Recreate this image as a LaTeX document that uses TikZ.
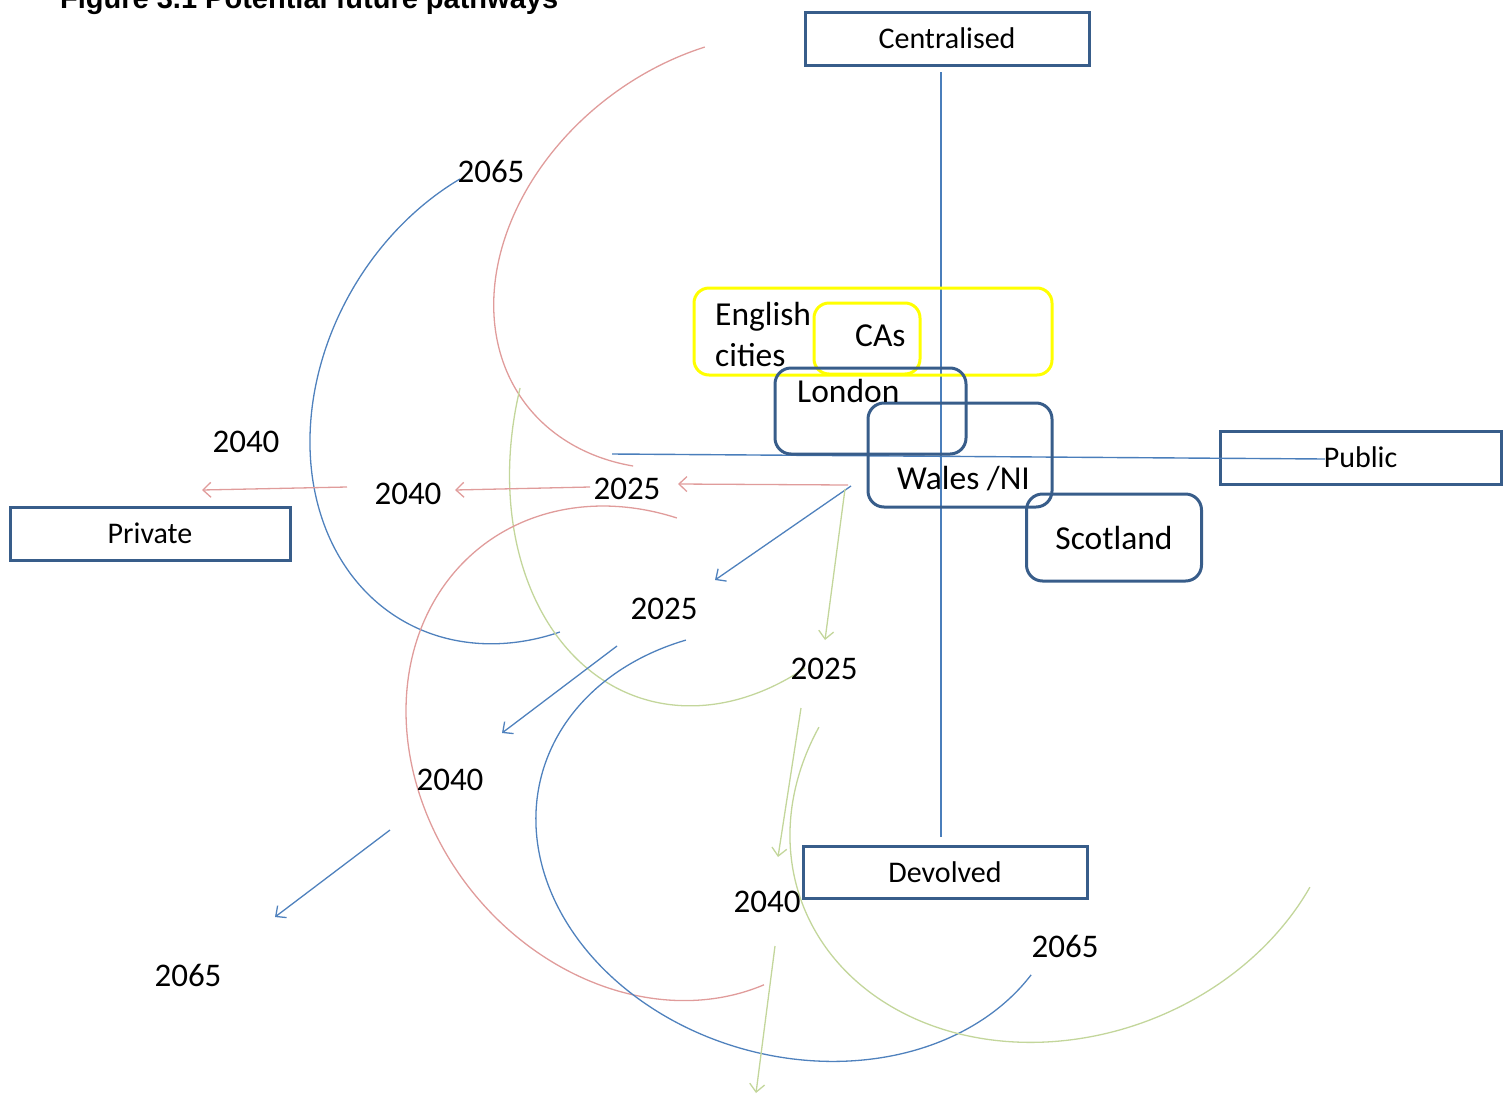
\documentclass[tikz,border=0pt]{standalone}
\usepackage{fontspec}
\setmainfont{Carlito}
\newfontfamily\titlefont{Liberation Sans}
\usetikzlibrary{arrows.meta}
\definecolor{boxblue}{HTML}{385D8A}
\definecolor{axisblue}{HTML}{4A7EBB}
\definecolor{arcred}{HTML}{E09C9B}
\definecolor{arcblue}{HTML}{4F81BD}
\definecolor{arcgreen}{HTML}{C3D69B}
\definecolor{ylw}{HTML}{FFFF00}
\begin{document}
\begin{tikzpicture}[x=1pt,y=-1pt,
  axisbox/.style={draw=boxblue, line width=3pt, inner sep=0pt, font=\fontsize{30}{36}\selectfont},
  ybox/.style={draw=ylw, line width=3pt, rounded corners=15pt, inner sep=0pt},
  rbox/.style={draw=boxblue, line width=3pt, rounded corners=16pt, inner sep=0pt},
  lbl/.style={inner sep=0pt, anchor=base west, font=\fontsize{33.5}{41}\selectfont},
  yr/.style={inner sep=0pt, anchor=base, font=\fontsize{33}{40}\selectfont},
  axisline/.style={draw=axisblue, line width=1.4pt},
  redc/.style={draw=arcred, line width=1.3pt},
  bluec/.style={draw=arcblue, line width=1.3pt},
  greenc/.style={draw=arcgreen, line width=1.3pt},
  arr/.style={-{Straight Barb[length=8pt,width=15pt,line width=1.3pt]}},
  arcplot/.style={samples=160, variable=\t, smooth}
]
\useasboundingbox (0,0) rectangle (1504,1095);
\clip (0,0) rectangle (1504,1095);

% title (cut off at top)
\node[inner sep=0pt, anchor=base west, font=\titlefont\bfseries\fontsize{29}{34}\selectfont] (title) at (60,8) {Figure 3.1 Potential future pathways};

% elliptical arcs
\draw[redc] plot[arcplot, domain=-216.4:-66.0] ({728.1+203.61*cos(\t)+116.14*sin(\t)}, {251.6-150.84*cos(\t)+156.77*sin(\t)});
\draw[bluec] plot[arcplot, domain=-222.6:-55.1] ({533.6+131.0*cos(\t)+181.27*sin(\t)}, {394.5-226.10*cos(\t)+105.03*sin(\t)});
\draw[greenc] plot[arcplot, domain=-223.9:-97.15] ({732.3+93.66*cos(\t)+202.14*sin(\t)}, {421.9-275.52*cos(\t)+68.72*sin(\t)});
\draw[redc] plot[arcplot, domain=-347:-128.5] ({643.6+163.39*cos(\t)-172.51*sin(\t)}, {753.3+205.97*cos(\t)+136.85*sin(\t)});
\draw[bluec] plot[arcplot, domain=-342:-127.8] ({801.3+259.60*cos(\t)-55.32*sin(\t)}, {844.9+70.10*cos(\t)+204.86*sin(\t)});
\draw[greenc] plot[arcplot, domain=-315.8:-136.8] ({1065.5+263.95*cos(\t)+79.14*sin(\t)}, {805.2-96.40*cos(\t)+216.70*sin(\t)});

% axis boxes
\node[axisbox, minimum width=284pt, minimum height=53pt] (cen) at (947,38.5) {Centralised};
\node[axisbox, minimum width=281pt, minimum height=53pt] (pub) at (1360.5,457.5) {Public};
\node[axisbox, minimum width=280pt, minimum height=53pt] (pri) at (150,533.5) {Private};
\node[axisbox, minimum width=284pt, minimum height=52pt] (dev) at (945,872) {Devolved};

% axis lines
\coordinate (vtop) at (941,72);
\coordinate (vbot) at (941,837);
\coordinate (hleft) at (612,454);
\coordinate (hright) at (1325,459);
\draw[axisline] (vtop) -- (vbot);
\draw[axisline] (hleft) -- (hright);

% rounded boxes
\node[ybox, minimum width=358pt, minimum height=87pt] (eng) at (873,331.5) {};
\node[ybox, minimum width=106pt, minimum height=71pt] (cas) at (867,338.5) {};
\node[rbox, minimum width=191pt, minimum height=86pt] (lon) at (870.5,411) {};
\node[rbox, minimum width=184pt, minimum height=104pt] (wal) at (960,455) {};
\node[rbox, minimum width=175pt, minimum height=87pt, font=\fontsize{33.5}{41}\selectfont] (sco) at (1114,537.5) {Scotland};

\node[lbl] (engt1) at (715,325) {English};
\node[lbl] (engt2) at (715,366) {cities};
\node[lbl] (cast) at (855,346) {CAs};
\node[lbl] (lont) at (797,402) {London};
\node[lbl] (walt) at (897,489) {Wales /NI};

% arrows
\coordinate (r1s) at (848,485); \coordinate (r1e) at (678,484);
\coordinate (r2s) at (590,487); \coordinate (r2e) at (455,490);
\coordinate (r3s) at (347,487); \coordinate (r3e) at (202,490);
\coordinate (b1s) at (851,486); \coordinate (b1e) at (715,580);
\coordinate (b2s) at (617,646); \coordinate (b2e) at (502,733);
\coordinate (b3s) at (390,830); \coordinate (b3e) at (275,917);
\coordinate (g1s) at (845,489); \coordinate (g1e) at (825,640);
\coordinate (g2s) at (801,708); \coordinate (g2e) at (778,857);
\coordinate (g3s) at (775,946); \coordinate (g3e) at (756,1093);
\draw[redc, arr] (r1s) -- (r1e);
\draw[redc, arr] (r2s) -- (r2e);
\draw[redc, arr] (r3s) -- (r3e);
\draw[bluec, arr] (b1s) -- (b1e);
\draw[bluec, arr] (b2s) -- (b2e);
\draw[bluec, arr] (b3s) -- (b3e);
\draw[greenc, arr] (g1s) -- (g1e);
\draw[greenc, arr] (g2s) -- (g2e);
\draw[greenc, arr] (g3s) -- (g3e);

% year labels
\node[yr] (y1) at (491,182) {2065};
\node[yr] (y2) at (246,452) {2040};
\node[yr] (y3) at (408,504) {2040};
\node[yr] (y4) at (627,499) {2025};
\node[yr] (y5) at (664,619) {2025};
\node[yr] (y6) at (824,679) {2025};
\node[yr] (y7) at (450,790) {2040};
\node[yr] (y8) at (767,912) {2040};
\node[yr] (y9) at (188,986) {2065};
\node[yr] (y10) at (1065,957) {2065};
\end{tikzpicture}
\end{document}
